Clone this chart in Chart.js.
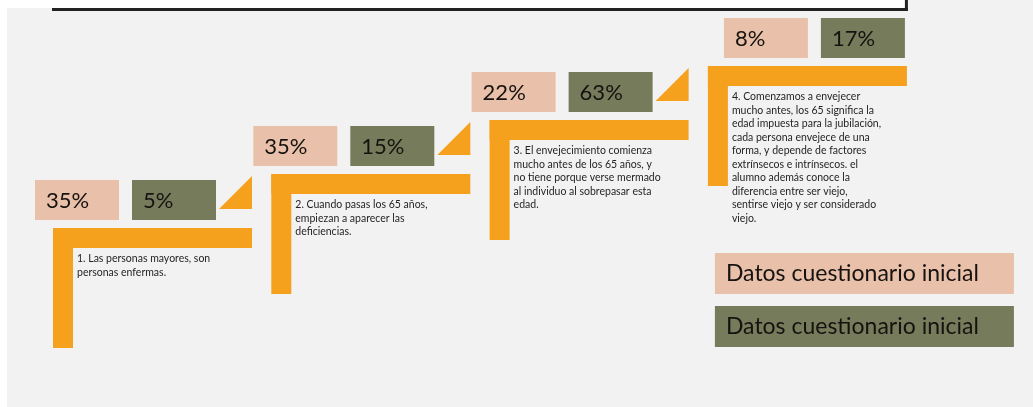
<!DOCTYPE html>
<html>
<head>
<meta charset="utf-8">
<script src="https://cdn.jsdelivr.net/npm/chart.js@4/dist/chart.umd.min.js"></script>
<style>
  html, body { margin: 0; padding: 0; background: #f2f2f2; }
  canvas { display: block; }
</style>
</head>
<body>
<canvas id="stepsChart" width="1033" height="407"></canvas>
<script>
// data
const steps = ['1', '2', '3', '4'];
const statements = [
    '1. Las personas mayores, son\npersonas enfermas.',
    '2. Cuando pasas los 65 años,\nempiezan a aparecer las\ndeficiencias.',
    '3. El envejecimiento comienza\nmucho antes de los 65 años, y\nno tiene porque verse mermado\nal individuo al sobrepasar esta\nedad.',
    '4. Comenzamos a envejecer\nmucho antes, los 65 significa la\nedad impuesta para la jubilación,\ncada persona envejece de una\nforma, y depende de factores\nextrínsecos e intrínsecos. el\nalumno además conoce la\ndiferencia entre ser viejo,\nsentirse viejo y ser considerado\nviejo.'
];
const initialValues = [35, 35, 22, 8];
const secondValues = [5, 15, 63, 17];
const seriesLabels = ['Datos cuestionario inicial', 'Datos cuestionario inicial'];

const ORANGE = '#f6a11e';
const PINK = '#e9c0a9';
const OLIVE = '#767c5b';

// background frame
const backdrop = {
    id: 'backdrop',
    beforeDraw(chart) {
        const ctx = chart.ctx;
        const x = chart.scales.x;
        ctx.save();
        ctx.fillStyle = '#f2f2f2';
        ctx.fillRect(0, 0, chart.width, chart.height);
        const right = x.getPixelForValue(steps.length - 1) + 200;
        ctx.fillStyle = '#ffffff';
        ctx.fillRect(0, 0, right, 8);
        ctx.fillRect(0, 0, 7, chart.height);
        ctx.fillStyle = '#222222';
        ctx.fillRect(x.getPixelForValue(0) - 1, 8, right - x.getPixelForValue(0) + 1, 3);
        ctx.fillRect(right - 3, 0, 3, 11);
        ctx.restore();
    }
};

// staircase with boxes and statements
const staircase = {
    id: 'staircase',
    afterDatasetsDraw(chart) {
        const ctx = chart.ctx;
        const meta = chart.getDatasetMeta(0);
        ctx.save();
        meta.data.forEach((pt, i) => {
            const ax = pt.x, ay = pt.y;
            const last = i === steps.length - 1;

            ctx.fillStyle = ORANGE;
            ctx.fillRect(ax, ay, 199, 20);
            ctx.fillRect(ax, ay, 20, 120);
            if (!last) {
                ctx.beginPath();
                ctx.moveTo(ax + 166, ay - 19);
                ctx.lineTo(ax + 199, ay - 52);
                ctx.lineTo(ax + 199, ay - 19);
                ctx.closePath();
                ctx.fill();
            }

            // last step has no wedge, so its boxes slide to the bar's end
            const shift = last ? 34 : 0;
            const boxes = [
                { left: ax - 18 + shift, color: PINK, value: initialValues[i] },
                { left: ax + 79 + shift, color: OLIVE, value: secondValues[i] }
            ];
            boxes.forEach(b => {
                ctx.fillStyle = b.color;
                ctx.fillRect(b.left, ay - 48, 84, 40);
                ctx.fillStyle = '#16120f';
                ctx.font = '22px Lato';
                ctx.textBaseline = 'middle';
                ctx.textAlign = 'left';
                ctx.fillText(b.value + '%', b.left + 11, ay - 27);
            });

            ctx.fillStyle = '#1f1f1f';
            ctx.font = '10.5px Lato';
            statements[i].split('\n').forEach((line, k) => {
                ctx.fillText(line, ax + 24, ay + 31 + k * 13.5);
            });
        });

        // legend blocks
        const lx = chart.scales.x.getPixelForValue(steps.length - 1) + 7;
        const top = chart.chartArea.bottom - 154;
        [PINK, OLIVE].forEach((c, k) => {
            const by = top + k * 53;
            ctx.fillStyle = c;
            ctx.fillRect(lx, by, 299, 41);
            let size = 26;
            ctx.font = size + 'px Lato';
            while (ctx.measureText(seriesLabels[k]).width > 257 && size > 10) {
                size -= 0.5;
                ctx.font = size + 'px Lato';
            }
            ctx.fillStyle = '#16120f';
            ctx.textBaseline = 'middle';
            ctx.fillText(seriesLabels[k], lx + 11, by + 21);
        });
        ctx.restore();
    }
};

new Chart(document.getElementById('stepsChart').getContext('2d'), {
    type: 'scatter',
    data: {
        labels: steps,
        datasets: [{
            label: 'steps',
            data: steps.map((s, i) => ({ x: i, y: i })),
            pointRadius: 0,
            showLine: false
        }]
    },
    options: {
        responsive: false,
        animation: false,
        layout: { padding: 0 },
        plugins: { legend: { display: false }, tooltip: { enabled: false } },
        scales: {
            x: { type: 'linear', display: false, min: -0.2428, max: 4.4892 },
            y: { type: 'linear', display: false, min: -3.3148, max: 4.2222 }
        }
    },
    plugins: [backdrop, staircase]
});
</script>
</body>
</html>
